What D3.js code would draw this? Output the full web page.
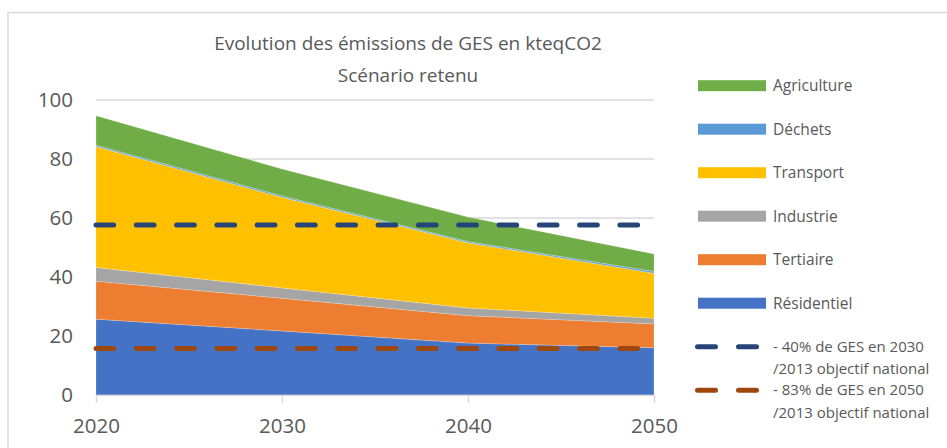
<!DOCTYPE html>
<html>
<head>
<meta charset="utf-8">
<script src="https://cdn.jsdelivr.net/npm/d3@7"></script>
<style>
  body { margin: 0; background: #fff; }
  svg { display: block; font-family: "Open Sans", "Noto Sans", sans-serif; }
</style>
</head>
<body>
<script>
// data
const years = [2020, 2030, 2040, 2050];
const residentiel = [25.7, 21.7, 17.6, 16.0];
const tertiaire = [12.9, 11.1, 9.3, 8.1];
const industrie = [4.6, 3.5, 2.6, 1.9];
const transport = [41.0, 30.7, 22.1, 15.3];
const dechets = [0.5, 0.5, 0.4, 0.6];
const agriculture = [10.0, 9.1, 8.3, 5.9];
const objectif2030 = 57.6;
const objectif2050 = 15.8;
const yTicks = [0, 20, 40, 60, 80, 100];

const width = 947,
  height = 448;
const margin = { left: 96, right: 293, top: 100, bottom: 53 };

const series = [
  { name: "Résidentiel", values: residentiel, color: "#4472C4" },
  { name: "Tertiaire", values: tertiaire, color: "#ED7D31" },
  { name: "Industrie", values: industrie, color: "#A5A5A5" },
  { name: "Transport", values: transport, color: "#FFC000" },
  { name: "Déchets", values: dechets, color: "#5B9BD5" },
  { name: "Agriculture", values: agriculture, color: "#70AD47" },
];

const targets = [
  { value: objectif2030, color: "#264478", lines: ["- 40% de GES en 2030", "/2013 objectif national"] },
  { value: objectif2050, color: "#9E480E", lines: ["- 83% de GES en 2050", "/2013 objectif national"] },
];

const rows = years.map((yr, i) => {
  const r = { year: yr };
  series.forEach((s) => (r[s.name] = s.values[i]));
  return r;
});

const x = d3
  .scaleLinear()
  .domain([2020, 2050])
  .range([margin.left, width - margin.right]);

const y = d3
  .scaleLinear()
  .domain([0, 100])
  .range([height - margin.bottom, margin.top]);

const stack = d3.stack().keys(series.map((s) => s.name));
const stacked = stack(rows);

const area = d3
  .area()
  .x((d) => x(d.data.year))
  .y0((d) => y(d[0]))
  .y1((d) => y(d[1]));

const svg = d3
  .select("body")
  .append("svg")
  .attr("width", width)
  .attr("height", height);

// outer frame (only top and left are in view)
svg
  .append("path")
  .attr("d", `M8,${height} L8,12.5 L${width},12.5`)
  .attr("fill", "none")
  .attr("stroke", "#d9d9d9")
  .attr("stroke-width", 1.5);

// title
const title = svg
  .append("text")
  .attr("x", 408)
  .attr("text-anchor", "middle")
  .attr("fill", "#595959")
  .style("font-size", "19px");
title.append("tspan").attr("x", 408).attr("y", 50).text("Evolution des émissions de GES en kteqCO2");
title.append("tspan").attr("x", 408).attr("y", 82).text("Scénario retenu");

// gridlines
svg
  .append("g")
  .selectAll("line")
  .data(yTicks.filter((t) => t > 0))
  .join("line")
  .attr("x1", x(2020))
  .attr("x2", x(2050))
  .attr("y1", (d) => y(d))
  .attr("y2", (d) => y(d))
  .attr("stroke", "#d9d9d9")
  .attr("stroke-width", 1.3);

// stacked areas
svg
  .append("g")
  .selectAll("path")
  .data(stacked)
  .join("path")
  .attr("fill", (d, i) => series[i].color)
  .attr("stroke", "rgba(255,255,255,0.35)")
  .attr("stroke-width", 0.6)
  .attr("d", area);

// x axis
const xAxis = svg
  .append("g")
  .attr("transform", `translate(0,${y(0)})`)
  .call(d3.axisBottom(x).tickValues(years).tickFormat(d3.format("d")).tickSizeOuter(0).tickSize(8).tickPadding(15));
xAxis.select(".domain").attr("stroke", "#d9d9d9").attr("stroke-width", 1.3);
xAxis.selectAll(".tick line").attr("stroke", "#d9d9d9").attr("stroke-width", 1.3);
xAxis
  .selectAll(".tick text")
  .attr("fill", "#595959")
  .style("font-size", "20.5px")
  .style("font-family", "Open Sans, sans-serif");

// y axis labels
const yAxis = svg
  .append("g")
  .attr("transform", `translate(${x(2020)},0)`)
  .call(d3.axisLeft(y).tickValues(yTicks).tickSize(0).tickPadding(23));
yAxis.select(".domain").remove();
yAxis
  .selectAll(".tick text")
  .attr("fill", "#595959")
  .style("font-size", "20.5px")
  .style("font-family", "Open Sans, sans-serif");

// target lines
svg
  .append("g")
  .selectAll("line")
  .data(targets)
  .join("line")
  .attr("x1", x(2020))
  .attr("x2", x(2050))
  .attr("y1", (d) => y(d.value))
  .attr("y2", (d) => y(d.value))
  .attr("stroke", (d) => d.color)
  .attr("stroke-width", 5)
  .attr("stroke-linecap", "round")
  .attr("stroke-dasharray", "17.7 22.6");

// legend
const legend = svg.append("g").attr("transform", "translate(698,0)");
const legendOrder = series.slice().reverse();

const item = legend
  .selectAll("g.item")
  .data(legendOrder)
  .join("g")
  .attr("class", "item")
  .attr("transform", (d, i) => `translate(0,${85.7 + i * 43.5})`);

item
  .append("rect")
  .attr("x", 0)
  .attr("y", -5.5)
  .attr("width", 68)
  .attr("height", 11)
  .attr("fill", (d) => d.color);

item
  .append("text")
  .attr("x", 75)
  .attr("dy", "0.35em")
  .attr("fill", "#595959")
  .style("font-size", "15.5px")
  .text((d) => d.name);

const tItem = legend
  .selectAll("g.target")
  .data(targets)
  .join("g")
  .attr("class", "target")
  .attr("transform", (d, i) => `translate(0,${346.7 + i * 43.5})`);

tItem
  .append("line")
  .attr("x1", -0.5)
  .attr("x2", 58.5)
  .attr("stroke", (d) => d.color)
  .attr("stroke-width", 5)
  .attr("stroke-linecap", "round")
  .attr("stroke-dasharray", "18 23");

tItem
  .append("text")
  .attr("fill", "#595959")
  .style("font-size", "15px")
  .selectAll("tspan")
  .data((d) => d.lines)
  .join("tspan")
  .attr("x", 75)
  .attr("y", (d, i) => i * 22.5)
  .attr("dy", "0.35em")
  .text((d) => d);
</script>
</body>
</html>
